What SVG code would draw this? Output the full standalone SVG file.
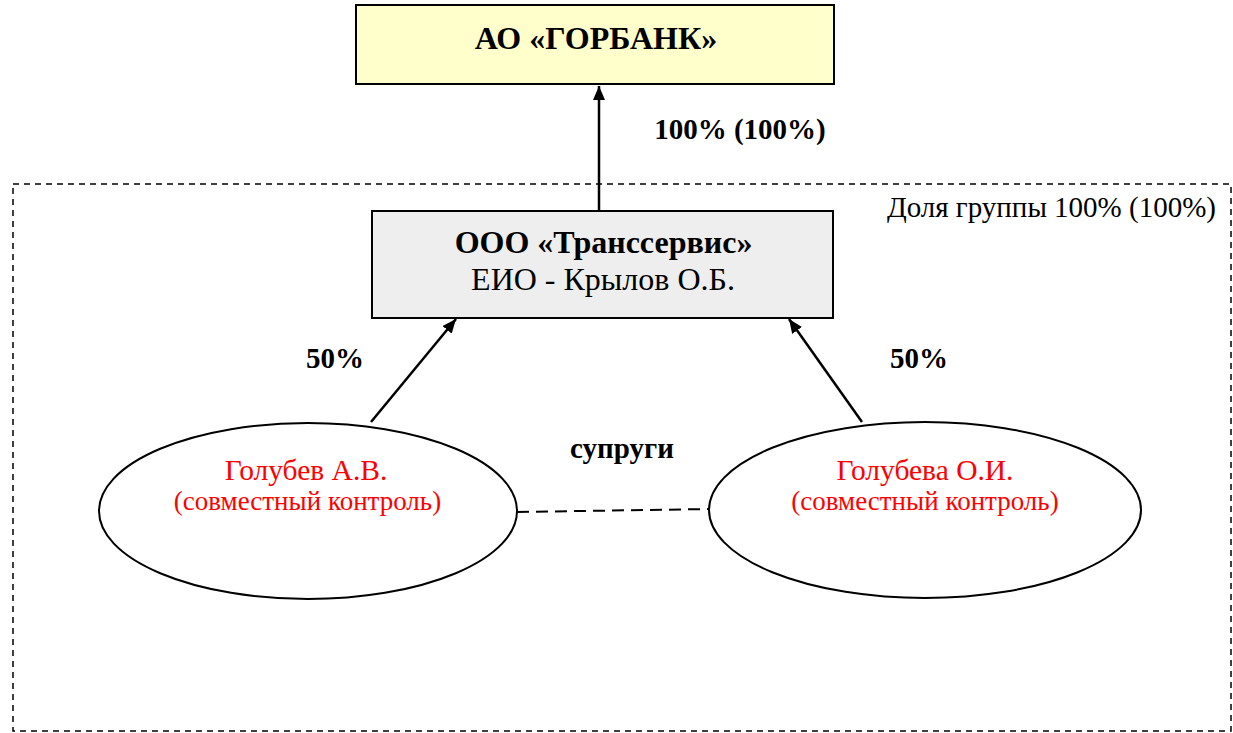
<svg xmlns="http://www.w3.org/2000/svg" width="1233" height="733" viewBox="0 0 1233 733">
<defs>
<style>
text{font-family:"Liberation Serif","Times New Roman",serif;}
.b{font-weight:bold;}
.red{fill:#ff0000;}
.box{stroke:#000;stroke-width:2;}
.ell{fill:#fff;stroke:#000;stroke-width:2;}
.con{stroke:#000;stroke-width:2.5;fill:none;}
</style>
<marker id="arrL" viewBox="0 0 14 12" refX="14" refY="6" markerWidth="14" markerHeight="12" markerUnits="userSpaceOnUse" orient="auto">
<path d="M0,0 L14,6 L0,12 z" fill="#000"/>
</marker>
</defs>
<rect x="13" y="184" width="1218" height="547" fill="none" stroke="#000" stroke-width="1.5" stroke-dasharray="6,5"/>
<text x="1216" y="217" font-size="29" text-anchor="end">Доля группы 100% (100%)</text>
<g id="connectors">
<line class="con" x1="599" y1="211" x2="599" y2="86" marker-end="url(#arrL)"/>
<line class="con" x1="371" y1="422" x2="456" y2="319" marker-end="url(#arrL)"/>
<line class="con" x1="862" y1="422" x2="789" y2="319" marker-end="url(#arrL)"/>
<line x1="517" y1="512" x2="709" y2="509" stroke="#000" stroke-width="2" stroke-dasharray="12,7"/>
<text class="b" x="740" y="139" font-size="29" text-anchor="middle">100% (100%)</text>
<text class="b" x="335" y="368" font-size="29" text-anchor="middle">50%</text>
<text class="b" x="919" y="368" font-size="29" text-anchor="middle">50%</text>
<text class="b" x="622" y="458" font-size="29" text-anchor="middle">супруги</text>
</g>
<g id="gorbank">
<rect class="box" x="356" y="5" width="478" height="79" fill="#ffffcc"/>
<text class="b" x="596" y="49" font-size="32" text-anchor="middle">АО «ГОРБАНК»</text>
</g>
<g id="transservis">
<rect class="box" x="372" y="211" width="461" height="107" fill="#eeeeee"/>
<text class="b" x="603.5" y="253" font-size="32" text-anchor="middle">ООО «Транссервис»</text>
<text x="603" y="290" font-size="32" text-anchor="middle">ЕИО - Крылов О.Б.</text>
</g>
<g id="golubev">
<ellipse class="ell" cx="308" cy="511" rx="209" ry="88"/>
<text class="red" x="306" y="480" font-size="29.5" text-anchor="middle">Голубев А.В.</text>
<text class="red" x="307.5" y="510" font-size="27" text-anchor="middle">(совместный контроль)</text>
</g>
<g id="golubeva">
<ellipse class="ell" cx="925" cy="510" rx="216" ry="88"/>
<text class="red" x="925" y="480" font-size="29.5" text-anchor="middle">Голубева О.И.</text>
<text class="red" x="925" y="510" font-size="27" text-anchor="middle">(совместный контроль)</text>
</g>
</svg>
